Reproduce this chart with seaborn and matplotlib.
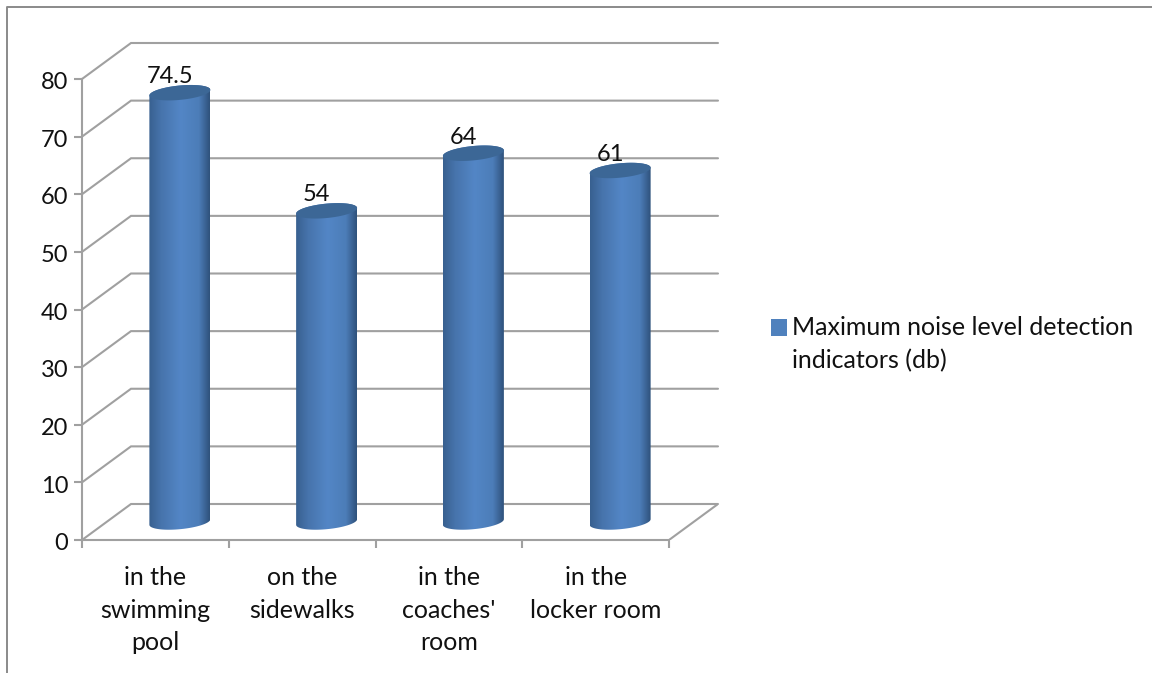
import numpy as np
import pandas as pd
import matplotlib
matplotlib.use("Agg")
import matplotlib.pyplot as plt
from matplotlib.lines import Line2D
from matplotlib.patches import PathPatch, Patch
from matplotlib.path import Path
from matplotlib.transforms import ScaledTranslation
import seaborn as sns

locations = ["in the\nswimming\npool", "on the\nsidewalks", "in the\ncoaches'\nroom", "in the\nlocker room"]
noise_db = [74.5, 54, 64, 61]
value_labels = ["74.5", "54", "64", "61"]
y_ticks = [0, 10, 20, 30, 40, 50, 60, 70, 80]
series_name = "Maximum noise level detection\nindicators (db)"

W, H = 1152, 673
sns.set_theme(style="white")
plt.rcParams["font.family"] = ["Lato", "DejaVu Sans"]

GRID = "#a0a0a0"
TEXT = "#111111"
BLUE = "#4f81bd"

# Front plane of the chart box, in pixels
left, right, bottom, top = 82, 669, 540, 79
depth_x, depth_y = 49, 36
px_x = (right - left) / 4
px_y = (bottom - top) / 80
dx = depth_x / px_x
dy = depth_y / px_y

fig = plt.figure(figsize=(W / 100, H / 100), dpi=100, facecolor="white")
ax = fig.add_axes([left / W, 1 - bottom / H, (right - left + depth_x) / W, (bottom - top + depth_y) / H])

df = pd.DataFrame({"location": locations, "noise": noise_db})
bar_width = 61 / px_x
sns.barplot(data=df, x="location", y="noise", order=locations, width=bar_width,
            color=BLUE, saturation=1, ax=ax)
ax.set_xlim(-0.5, 3.5 + dx)
ax.set_ylim(0, 80 + dy)
ax.set_xlabel("")
ax.set_ylabel("")

# Back wall gridlines, left wall diagonals and floor edge
for v in y_ticks:
    ax.plot([-0.5, -0.5 + dx, 3.5 + dx], [v, v + dy, v + dy], color=GRID, lw=1.5,
            zorder=1, clip_on=False, solid_joinstyle="miter")
ax.plot([3.5, 3.5 + dx], [0, dy], color=GRID, lw=1.5, zorder=1)

# Cylinder gradient, running dark to light to dark across the bar
stops = np.array([[0x38, 0x60, 0x90], [0x47, 0x74, 0xac], [0x53, 0x86, 0xc6], [0x4c, 0x7d, 0xb8], [0x2f, 0x52, 0x7c]]) / 255
pos = [0, 0.2, 0.52, 0.82, 1]
gradient = np.stack([np.interp(np.linspace(0, 1, 128), pos, stops[:, c]) for c in range(3)], axis=-1)[None, :, :]

b_px, tilt_px = 7.2, 2.8
t = np.linspace(0, 2 * np.pi, 97)
bars = list(ax.patches)
for patch, value, label in zip(bars, noise_db, value_labels):
    patch.set_visible(False)
    cx = patch.get_x() + patch.get_width() / 2 + dx / 2
    base = dy / 2
    ex = bar_width / 2 * np.cos(t)
    ey = (b_px * np.sin(t) + tilt_px * np.cos(t)) / px_y

    # Body outline: top rim right to left, then lower half of the base
    upper = (t <= np.pi)
    lower = (t >= np.pi)
    xs = np.r_[cx + ex[upper], cx + ex[lower]]
    ys = np.r_[base + value + ey[upper], base + ey[lower]]
    body = PathPatch(Path(np.c_[xs, ys]), fc="none", ec="none", zorder=3)
    ax.add_patch(body)
    img = ax.imshow(gradient, extent=(cx - bar_width / 2, cx + bar_width / 2, 0, 90),
                    aspect="auto", zorder=3, interpolation="bilinear")
    img.set_clip_path(body)

    ax.fill(cx + ex, base + value + ey, color="#3c6796", lw=0, zorder=4)
    ax.text(cx - 10 / px_x, base + value + 2.8, label, ha="center", va="center",
            fontsize=17, color=TEXT, zorder=5)

ax.set_xlim(-0.5, 3.5 + dx)
ax.set_ylim(0, 80 + dy)

# Axis lines stop at the front plane; the walls carry on behind them
for s in ["top", "right"]:
    ax.spines[s].set_visible(False)
ax.spines["left"].set_bounds(0, 80)
ax.spines["bottom"].set_bounds(-0.5, 3.5)
for s in ["left", "bottom"]:
    ax.spines[s].set_color(GRID)
    ax.spines[s].set_linewidth(1.5)

ax.set_yticks(y_ticks)
ax.set_xticks(np.arange(-0.5, 4, 1))
ax.set_xticks(range(4), minor=True)
ax.set_xticklabels([])
ax.set_xticklabels(locations, minor=True, linespacing=1.5, ha="center")
ax.tick_params(axis="x", which="major", direction="out", length=6, width=1.5, color=GRID, bottom=True)
ax.tick_params(axis="x", which="minor", length=0, pad=19, labelsize=18, labelcolor=TEXT, bottom=True)
ax.tick_params(axis="y", direction="out", length=6, width=1.5, color=GRID, left=True, pad=4,
               labelsize=17, labelcolor=TEXT)
# Nudge the value-axis numbers down a little against their ticks
nudge = ScaledTranslation(0, -1.2 / 72, fig.dpi_scale_trans)
for tick_label in ax.get_yticklabels():
    tick_label.set_transform(tick_label.get_transform() + nudge)

handle = Patch(facecolor=BLUE, edgecolor="none")
leg = fig.legend(handles=[handle], labels=[series_name], loc="upper left",
                 bbox_to_anchor=(771 / W, 1 - 316 / H), frameon=False, fontsize=18,
                 labelcolor=TEXT, handlelength=0.64, handleheight=0.64, handletextpad=0.22,
                 borderpad=0, borderaxespad=0, labelspacing=0)
leg.get_texts()[0].set_linespacing(1.5)
# Line the swatch up with the first line of the entry
swatch = leg.legend_handles[0]
swatch.set_y(swatch.get_y() + 12.2)

# Outer chart frame, cut off by the image edge on the right and below
fig.add_artist(Line2D([7 / W, 7 / W, 1], [0, 1 - 7 / H, 1 - 7 / H], color="#8a8a8a", lw=1.4,
                      transform=fig.transFigure))

fig.savefig("out.png", dpi=100, facecolor="white")
